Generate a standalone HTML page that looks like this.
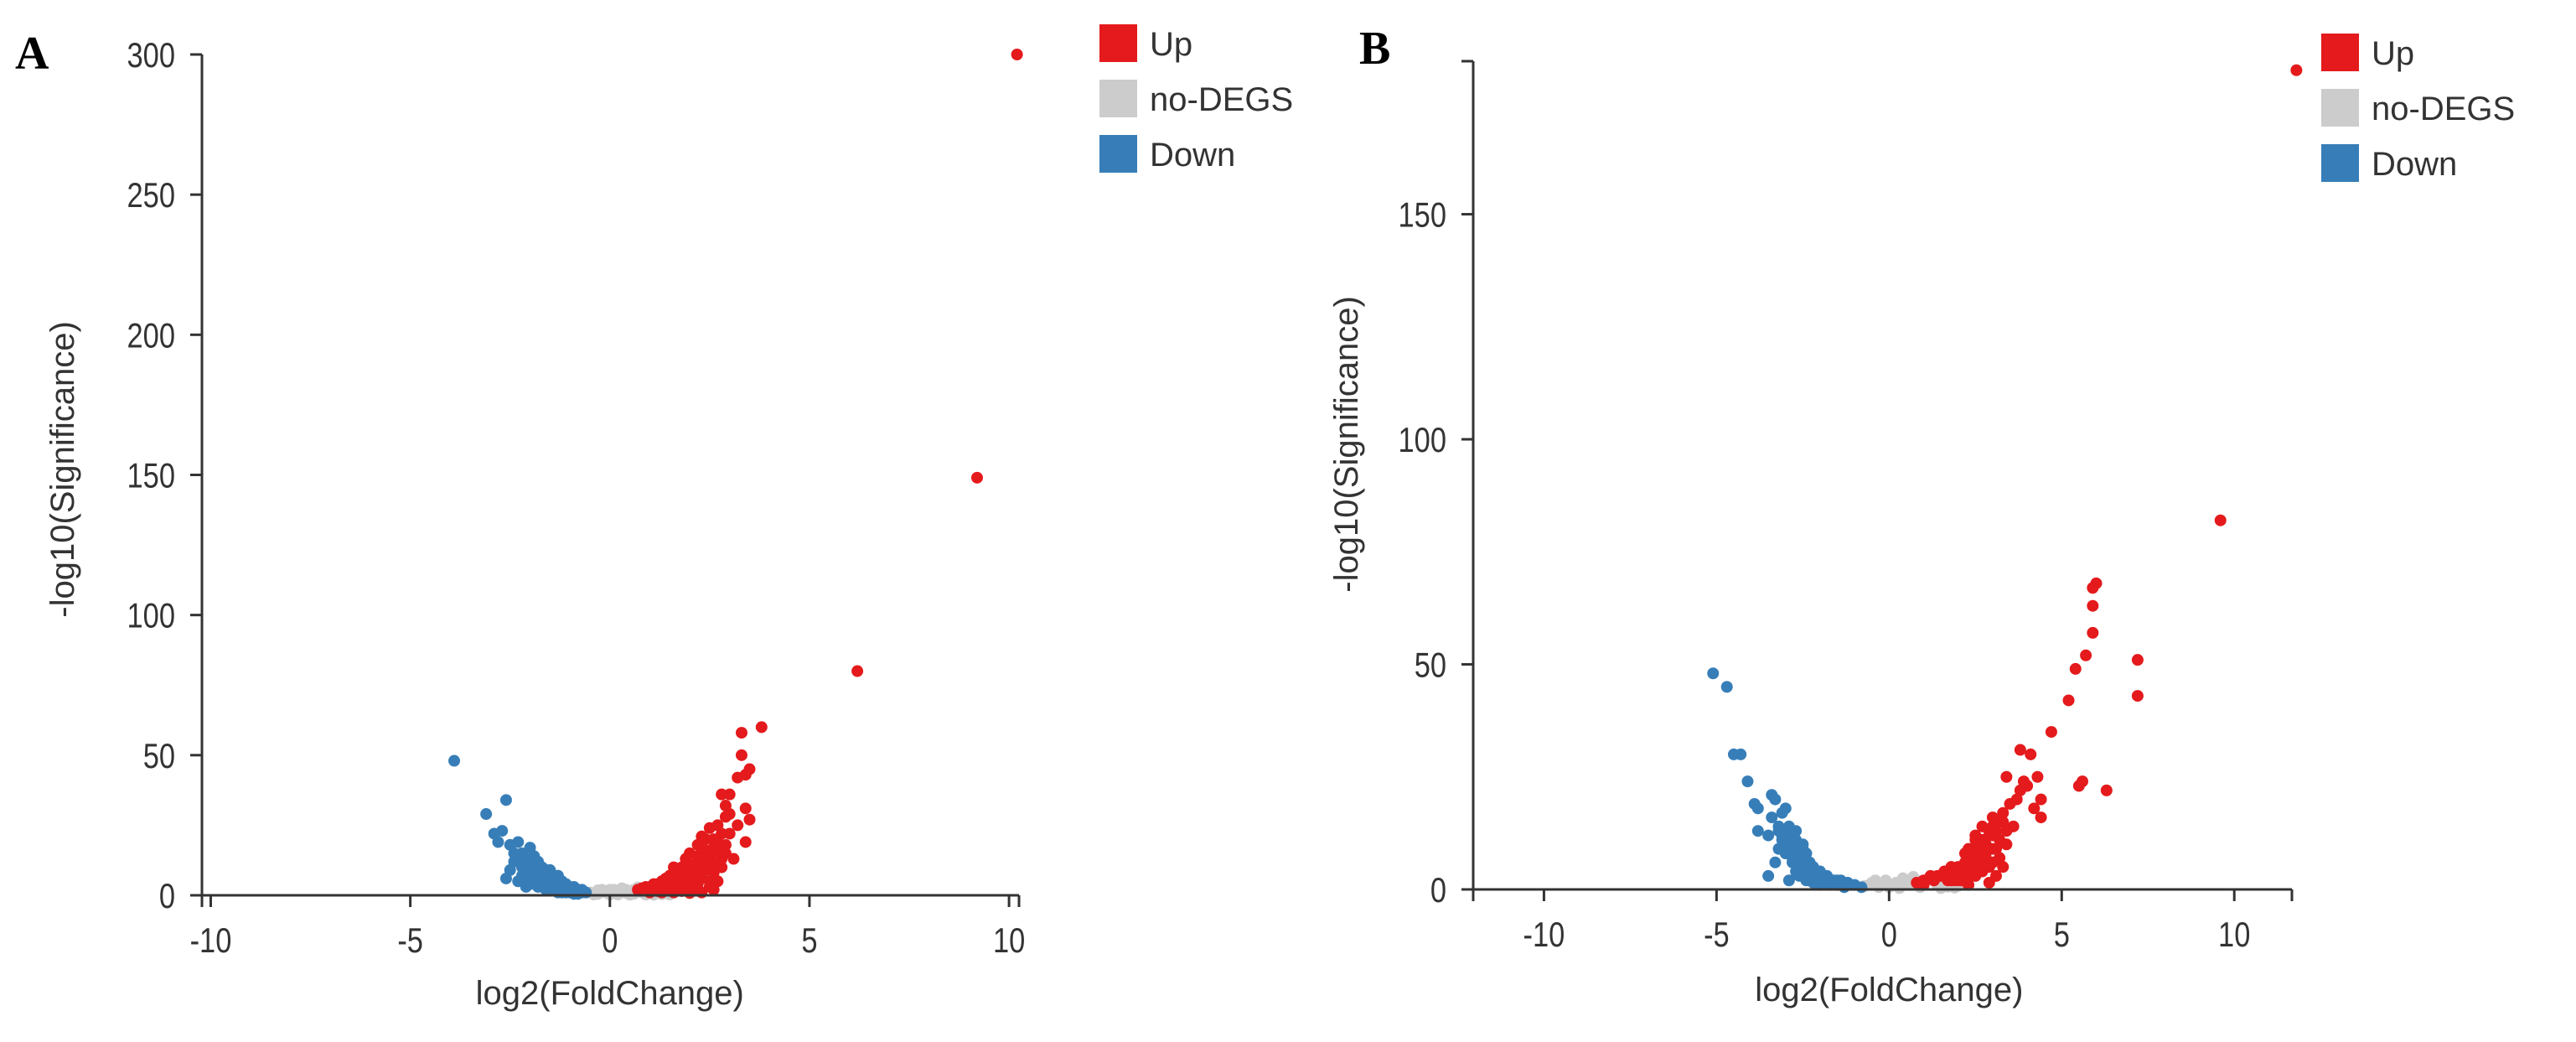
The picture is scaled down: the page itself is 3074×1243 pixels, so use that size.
<!DOCTYPE html>
<html><head><meta charset="utf-8"><style>
html,body{margin:0;padding:0;background:#fff;}
svg{display:block;font-family:"Liberation Sans",Arial,sans-serif;}
</style></head><body>
<svg id="fig" width="3074" height="1243" viewBox="0 0 3074 1243"></svg>
<script>
// ---- Panel A data ----
const aXTicks = [-10, -5, 0, 5, 10];
const aYTicks = [0, 50, 100, 150, 200, 250, 300];
const aUp = [10.2,300, 9.2,149, 6.2,80, 3.8,60, 3.3,58, 3.3,50, 3.5,45, 3.4,43, 3.2,42, 3.0,36, 2.8,36, 2.9,32, 3.0,29, 2.9,28, 3.4,31, 3.5,27, 3.4,19, 2.7,25, 2.5,24, 2.8,22, 2.6,20, 2.3,21, 2.2,18, 2.4,16, 2.7,16, 2.9,15, 2.6,12, 2.4,9, 2.2,12, 2.0,15, 1.9,13, 1.8,10, 2.1,9, 1.7,8, 1.6,10, 1.5,7, 1.4,6, 1.3,5, 1.2,4, 1.1,4, 1.0,3, 0.9,3, 0.8,2.5, 0.7,2, 2.0,5, 2.3,6, 1.8,4, 1.6,3, 2.5,5, 2.2,2, 1.9,2, 2.6,8, 2.0,8, 1.7,5, 1.5,3, 2.8,10, 3.1,13, 2.4,13, 2.1,3, 1.9,6, 2.3,1, 1.8,1.5, 2.0,0.8, 2.5,3, 2.7,5, 2.1,11, 1.6,5, 1.4,2, 1.2,1.5, 2.6,2, 3.0,22, 3.2,25,
  1.0,1, 1.2,2, 1.3,1, 1.5,5, 1.6,1, 1.7,3, 1.8,6, 1.9,9, 2.0,11, 2.1,6, 2.2,4, 2.3,8, 2.4,11, 2.5,15, 2.6,17, 2.7,19, 2.8,13, 2.9,18, 2.2,14, 2.4,20, 1.9,4, 2.1,7, 2.3,12, 2.5,10, 2.7,12, 1.4,4, 1.7,7, 2.0,2, 2.2,10, 1.6,7, 1.3,3, 1.1,2];
const aNo = [-0.5,1, -0.3,0.5, -0.1,1, 0,0.3, 0.2,1.5, 0.4,0.8, 0.6,2, 0.8,1, 1.0,2.5, 1.2,1, 1.4,2, 1.6,1.2, 0.1,2, -0.2,2, 0.5,0.2, 0.9,0.3, 1.3,0.4, 1.5,0.3, 0.3,2.5, 0.7,2.8, 1.1,0.2, -0.4,0.3, 0,2, 0.6,0.5, 0.2,0.3, 0.4,2, 0.8,2.2, 1.2,2.4, 1.4,0.8, -0.3,1.8];
const aDown = [-3.9,48, -2.6,34, -3.1,29, -2.9,22, -2.7,23, -2.5,18, -2.3,19, -2.8,19, -2.2,15, -2.0,17, -2.4,12, -2.6,6, -2.3,5, -1.9,14, -1.8,12, -2.1,10, -1.7,10, -1.6,8, -1.5,9, -1.9,7, -1.4,6, -1.3,7, -1.2,5, -1.1,4, -1.0,3, -0.9,3, -0.8,2, -0.7,2, -0.6,1, -1.5,4, -1.7,5, -2.0,4, -1.3,3, -1.6,2, -1.2,1, -1.0,1, -0.9,0.5, -2.2,7, -1.8,3, -1.4,2, -2.1,3, -2.5,9, -2.0,12, -1.6,6, -1.1,2, -1.8,8, -0.7,1, -0.8,0.5, -1.4,4, -1.2,3, -1.9,5, -1.3,1,
  -1.1,1, -1.2,2, -1.3,4, -1.4,5, -1.5,6, -1.6,4, -1.7,7, -1.8,6, -1.9,10, -2.0,8, -2.1,6, -2.2,10, -2.3,13, -2.0,6, -1.7,3, -1.5,2, -0.9,1.5, -1.0,2, -1.6,9, -1.8,10, -2.1,13, -2.4,15, -1.9,8];
// ---- Panel B data ----
const bXTicks = [-10, -5, 0, 5, 10];
const bYTicks = [0, 50, 100, 150];
const bUp = [11.8,182, 9.6,82, 6.0,68, 5.9,67, 5.9,63, 5.9,57, 5.7,52, 5.4,49, 5.2,42, 7.2,51, 7.2,43, 4.7,35, 3.8,31, 4.1,30, 4.3,25, 3.9,24, 3.4,25, 3.8,22, 4.0,23, 4.4,20, 4.2,18, 4.4,16, 5.5,23, 5.6,24, 6.3,22, 3.7,20, 3.5,19, 3.3,17, 3.2,15, 3.0,16, 3.6,14, 3.4,13, 2.9,13, 2.7,14, 2.5,12, 2.8,10, 3.1,9, 2.6,8, 2.4,7, 2.3,9, 2.2,6, 2.0,5, 1.8,5, 1.6,4, 1.4,3, 1.2,3, 1.0,2, 0.8,1.5, 3.0,6, 2.7,4, 2.5,3, 3.1,3, 2.9,1.5, 2.3,1, 2.1,3, 1.9,2, 3.2,11, 2.6,11, 2.8,7, 3.3,5, 2.4,4, 2.2,8, 2.0,3, 1.7,2, 3.0,12, 2.5,6,
  1.0,1, 1.3,2, 1.5,3, 1.7,3, 1.9,4, 2.1,5, 2.3,7, 2.5,9, 2.7,11, 2.9,12, 3.1,13, 2.4,5, 2.6,6, 2.8,8, 3.0,9, 2.2,4, 2.0,2, 1.8,2, 2.6,4, 2.9,5, 3.2,7, 3.4,10, 2.7,9, 2.5,11, 2.3,3, 2.1,2, 3.0,14, 3.3,15];
const bNo = [-0.7,0.8, -0.5,1.5, -0.3,0.5, -0.1,2, 0,0.5, 0.2,1.5, 0.4,2.5, 0.6,1, 0.8,2, 1.0,1, 1.2,2.5, 1.4,1, 1.6,2, 1.8,1.5, 2.0,0.8, 2.1,2, 0.3,0.3, 0.9,0.5, 1.5,0.3, -0.2,1, 0.7,2.8, 1.9,0.4, 0.5,2, 1.1,2, 1.7,0.6, 0.1,1, -0.4,2];
const bDown = [-5.1,48, -4.7,45, -4.5,30, -4.3,30, -4.1,24, -3.9,19, -3.8,18, -3.4,21, -3.3,20, -3.1,17, -3.0,18, -3.8,13, -3.5,12, -3.2,14, -2.9,14, -2.7,13, -3.0,10, -2.8,9, -3.3,6, -3.5,3, -2.6,7, -2.5,9, -2.4,8, -2.7,4, -2.9,2, -2.3,6, -2.2,5, -2.1,4, -2.0,4, -1.9,3, -1.8,3, -1.6,2, -1.4,2, -1.2,1.5, -1.0,1, -0.8,0.5, -2.6,3, -2.4,2, -2.2,1.5, -2.0,1, -1.7,1, -3.1,11, -2.8,6, -2.5,5, -1.5,1, -1.3,0.5, -2.9,12, -3.2,9, -2.6,10, -2.3,3,
  -1.1,1, -1.3,1.5, -1.5,2, -1.7,2, -1.9,3, -2.1,3, -2.3,5, -2.5,7, -2.7,8, -2.9,10, -3.1,12, -2.4,3, -2.2,3, -2.6,5, -2.8,7, -3.0,8, -2.0,2, -1.8,1.5, -3.2,13, -3.4,16, -2.7,11, -2.5,10];
const legendLabels = ["Up", "no-DEGS", "Down"];
const colors = ["#e41a1c", "#cccccc", "#377eb8"];

const NS = "http://www.w3.org/2000/svg";
const svg = document.getElementById("fig");
function mk(tag, attrs, parent) {
  const e = document.createElementNS(NS, tag);
  for (const k in attrs) e.setAttribute(k, attrs[k]);
  (parent || svg).appendChild(e);
  return e;
}
function condense(t, f) {
  const w = t.getComputedTextLength();
  t.setAttribute("textLength", w * f);
  t.setAttribute("lengthAdjust", "spacingAndGlyphs");
}

function panel(cfg) {
  const g = mk("g", {});
  
  
  const sx = v => cfg.x0 + (v - cfg.xmin) / (cfg.xmax - cfg.xmin) * (cfg.x1 - cfg.x0);
  const sy = v => cfg.y0 - (v - cfg.ymin) / (cfg.ymax - cfg.ymin) * (cfg.y0 - cfg.y1);
  const L = mk("text", {x: cfg.letterX, y: cfg.letterY, "font-family": "Liberation Serif, serif", "font-weight": "bold", "font-size": 56, fill: "#000"}, g);
  L.textContent = cfg.letter;
  
  
  const series = [cfg.no, cfg.down, cfg.up];
  const sc = [colors[1], colors[2], colors[0]];
  const sn = ["no-degs-point", "down-point", "up-point"];
  series.forEach((arr, si) => {
    for (let i = 0; i < arr.length; i += 2) {
      const c = mk("circle", {cx: sx(arr[i]), cy: sy(arr[i + 1]), r: 7, fill: sc[si]}, g);
      
      
    }
  });
  const ya = mk("line", {x1: cfg.x0, y1: cfg.y1, x2: cfg.x0, y2: cfg.y0 + 4, stroke: "#333", "stroke-width": 3}, g);
  
  
  const xa = mk("line", {x1: cfg.x0 - 14, y1: cfg.y0, x2: cfg.x1, y2: cfg.y0, stroke: "#333", "stroke-width": 3}, g);
  
  
  [cfg.x0, cfg.x1].forEach(xx => { mk("line", {x1: xx, y1: cfg.y0, x2: xx, y2: cfg.y0 + 14, stroke: "#333", "stroke-width": 3}, g); });
  mk("line", {x1: cfg.x0 - 14, y1: cfg.y1, x2: cfg.x0, y2: cfg.y1, stroke: "#333", "stroke-width": 3}, g);
  cfg.yt.forEach(t => {
    const y = sy(t);
    mk("line", {x1: cfg.x0 - 14, y1: y, x2: cfg.x0, y2: y, stroke: "#333", "stroke-width": 3}, g);
    const tx = mk("text", {x: cfg.x0 - 32, y: y + 15, "text-anchor": "end", "font-size": 42, fill: "#333"}, g);
    tx.textContent = t;
    condense(tx, 0.82);
    
    
  });
  cfg.xt.forEach(t => {
    const x = sx(t);
    mk("line", {x1: x, y1: cfg.y0, x2: x, y2: cfg.y0 + 14, stroke: "#333", "stroke-width": 3}, g);
    const tx = mk("text", {x: x, y: cfg.y0 + 68, "text-anchor": "middle", "font-size": 42, fill: "#333"}, g);
    tx.textContent = t;
    condense(tx, 0.82);
    
    
  });
  const xt = mk("text", {x: sx(0), y: cfg.xTitleY, "text-anchor": "middle", "font-size": 40, fill: "#333"}, g);
  xt.textContent = "log2(FoldChange)";
  
  
  const yt = mk("text", {x: 0, y: 0, "text-anchor": "middle", "font-size": 40, fill: "#333", transform: `translate(${cfg.yTitleX},${cfg.yTitleY}) rotate(-90)`}, g);
  yt.textContent = "-log10(Significance)";
  
  
  legendLabels.forEach((lab, i) => {
    const ly = cfg.legY + i * 66;
    const r = mk("rect", {x: cfg.legX, y: ly, width: 45, height: 45, fill: colors[i]}, g);
    
    
    const t = mk("text", {x: cfg.legX + 60, y: ly + 37, "font-size": 40, fill: "#333"}, g);
    t.textContent = lab;
    
    
  });
}

panel({name: "panel-a", letter: "A", letterX: 18, letterY: 82,
  x0: 241, x1: 1216, xmin: -10.22, xmax: 10.25, y0: 1068, y1: 65, ymin: 0, ymax: 300,
  xt: aXTicks, yt: aYTicks, up: aUp, no: aNo, down: aDown,
  xTitleY: 1198, yTitleX: 88, yTitleY: 560, legX: 1312, legY: 29});
panel({name: "panel-b", letter: "B", letterX: 1622, letterY: 76,
  x0: 1758, x1: 2735, xmin: -12.05, xmax: 11.67, y0: 1061, y1: 73, ymin: 0, ymax: 184,
  xt: bXTicks, yt: bYTicks, up: bUp, no: bNo, down: bDown,
  xTitleY: 1194, yTitleX: 1620, yTitleY: 530, legX: 2770, legY: 40});
</script>
</body></html>
